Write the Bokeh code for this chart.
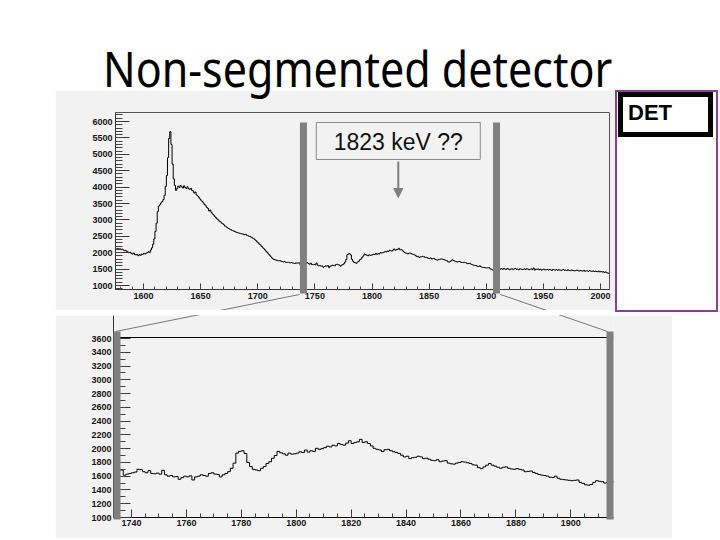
import numpy as np
from bokeh.plotting import figure
from bokeh.models import Range1d, Div, Spacer, Span, Arrow, NormalHead, FixedTicker
from bokeh.layouts import column, row
from bokeh.embed import file_html
from bokeh.resources import INLINE
from bokeh.core.properties import value

# ---------------------------------------------------------------- data
TITLE = "Non-segmented detector"
DET_LABEL = "DET"
NOTE_TEXT = "1823 keV ??"
NOTE_KEV = 1823

FIRST_BIN_KEV = 1576          # lower edge of the first 1-keV bin

# counts per 1 keV bin, 1576 .. 1735 keV
counts_low = [
    2110, 2130, 2100, 2120, 2090, 2110, 2080, 2060, 2070, 2040,
    2020, 2000, 2010, 1970, 1960, 1990, 1940, 1930, 1950, 1910,
    1940, 1920, 1960, 1950, 1980, 1960, 1990, 2000, 2030, 2010,
    2080, 2150, 2260, 2420, 2650, 2900, 3250, 3420, 3460, 3520,
    3560, 3620, 3750, 4020, 4350, 4900, 5480, 5690, 5300, 4700,
    4250, 4050, 3900, 3960, 4030, 3990, 4050, 4010, 3970, 4040,
    3990, 3960, 4010, 3950, 3930, 3960, 3900, 3880, 3820, 3850,
    3760, 3730, 3690, 3640, 3600, 3560, 3520, 3470, 3430, 3380,
    3350, 3270, 3300, 3230, 3180, 3150, 3100, 3070, 3030, 3000,
    2960, 2940, 2900, 2880, 2850, 2810, 2790, 2760, 2740, 2720,
    2700, 2680, 2670, 2650, 2640, 2620, 2610, 2600, 2590, 2580,
    2570, 2560, 2550, 2560, 2530, 2520, 2500, 2490, 2470, 2450,
    2430, 2400, 2370, 2330, 2300, 2260, 2230, 2190, 2150, 2120,
    2080, 2040, 2000, 1960, 1920, 1880, 1840, 1810, 1790, 1780,
    1770, 1760, 1750, 1760, 1740, 1730, 1720, 1730, 1710, 1700,
    1710, 1700, 1690, 1700, 1690, 1680, 1670, 1690, 1680, 1690,
]
# counts per 1 keV bin, 1736 .. 1912 keV (the zoomed window)
counts_zoom = [
    1690, 1615, 1630, 1640, 1650, 1660, 1700, 1695, 1665, 1650,
    1680, 1640, 1635, 1645, 1630, 1685, 1620, 1600, 1610, 1590,
    1595, 1555, 1580, 1600, 1590, 1605, 1545, 1590, 1600, 1620,
    1610, 1600, 1640, 1650, 1630, 1625, 1590, 1620, 1640, 1665,
    1715, 1790, 1935, 1960, 1970, 1930, 1800, 1740, 1700, 1690,
    1680, 1715, 1740, 1785, 1810, 1860, 1900, 1960, 1940, 1925,
    1905, 1935, 1920, 1925, 1935, 1955, 1945, 1980, 1950, 1970,
    1960, 2005, 1990, 2000, 2015, 2035, 2025, 2050, 2040, 2075,
    2060, 2050, 2080, 2115, 2075, 2090, 2100, 2135, 2090, 2100,
    2075, 2040, 2005, 1990, 1980, 1960, 1985, 1990, 1970, 1955,
    1945, 1930, 1905, 1880, 1890, 1855, 1870, 1875, 1890, 1880,
    1855, 1860, 1845, 1830, 1825, 1840, 1810, 1820, 1825, 1790,
    1780, 1775, 1790, 1800, 1810, 1805, 1795, 1785, 1765, 1760,
    1725, 1710, 1735, 1760, 1785, 1760, 1745, 1730, 1715, 1730,
    1735, 1715, 1705, 1700, 1710, 1700, 1690, 1665, 1670, 1675,
    1655, 1640, 1625, 1615, 1610, 1600, 1585, 1580, 1600, 1570,
    1555, 1550, 1545, 1540, 1535, 1540, 1545, 1510, 1495, 1475,
    1470, 1480, 1510, 1535, 1525, 1520, 1500,
]
# counts per 1 keV bin, 1913 .. 2007 keV
counts_high = [
    1510, 1495, 1520, 1500, 1490, 1515, 1505, 1480, 1500, 1510,
    1490, 1505, 1520, 1495, 1500, 1480, 1510, 1500, 1485, 1495,
    1505, 1490, 1510, 1500, 1480, 1495, 1505, 1485, 1530, 1470,
    1500, 1490, 1505, 1480, 1495, 1470, 1485, 1500, 1475, 1480,
    1490, 1470, 1485, 1480, 1460, 1490, 1475, 1470, 1485, 1465,
    1480, 1470, 1460, 1475, 1490, 1465, 1470, 1455, 1480, 1460,
    1450, 1470, 1465, 1455, 1445, 1460, 1470, 1450, 1440, 1455,
    1450, 1440, 1460, 1435, 1450, 1445, 1430, 1455, 1440, 1430,
    1445, 1425, 1440, 1430, 1420, 1440, 1415, 1430, 1410, 1420,
    1400, 1415, 1390, 1380, 1370,
]

ZOOM_RANGE = (1736, 1913)     # window shown in the lower panel (keV)
MARKER_KEV = [1740, 1909]     # grey window markers drawn on the upper panel

top_x_ticks = [1600, 1650, 1700, 1750, 1800, 1850, 1900, 1950, 2000]
top_y_ticks = [1000, 1500, 2000, 2500, 3000, 3500, 4000, 4500, 5000, 5500, 6000]
bot_x_ticks = [1740, 1760, 1780, 1800, 1820, 1840, 1860, 1880, 1900]
bot_y_ticks = [1000, 1200, 1400, 1600, 1800, 2000, 2200, 2400, 2600,
               2800, 3000, 3200, 3400, 3600]

# ---------------------------------------------------------------- style
BG = "#f2f2f2"
BAR = "#808080"
LINK = "#777777"
PURPLE = "#923a9c"

counts = np.array(counts_low + counts_zoom + counts_high, dtype=float)
edges = FIRST_BIN_KEV + np.arange(len(counts) + 1)
step_y = np.append(counts, counts[-1])


class Frame:
    """maps slide pixels <-> data for one plot frame"""
    def __init__(self, l, r, t, b, x0, x1, y0, y1):
        self.l, self.r, self.t, self.b = l, r, t, b
        self.x0, self.x1, self.y0, self.y1 = x0, x1, y0, y1

    def x(self, px):
        return self.x0 + (px - self.l) * (self.x1 - self.x0) / (self.r - self.l)

    def y(self, py):
        return self.y0 + (self.b - py) * (self.y1 - self.y0) / (self.b - self.t)

    def px(self, x):
        return self.l + (x - self.x0) * (self.r - self.l) / (self.x1 - self.x0)


# upper panel geometry (slide pixels)
TOP_PANEL = (55, 90, 560, 220)
kpp = (top_x_ticks[-1] - top_x_ticks[0]) / (600 - 143)
ypp = (top_y_ticks[-1] - top_y_ticks[0]) / (285 - 121)
top = Frame(115, 609, 112, 289,
            top_x_ticks[0] - (143 - 115) * kpp, top_x_ticks[0] + (609 - 143) * kpp,
            top_y_ticks[0] - (289 - 285) * ypp, top_y_ticks[-1] + (121 - 112) * ypp)

# lower panel geometry
BOT_PANEL = (55, 315, 617, 223)
PAD = 7
kpp_b = (ZOOM_RANGE[1] - ZOOM_RANGE[0]) / (613 - 113 - 2 * PAD)
ypp_b = (bot_y_ticks[-1] - bot_y_ticks[0]) / (517 - 338)
bot = Frame(113, 613, 315, 517,
            ZOOM_RANGE[0] - PAD * kpp_b, ZOOM_RANGE[1] + PAD * kpp_b,
            bot_y_ticks[0], bot_y_ticks[-1] + (338 - 315) * ypp_b)


def make_fig(panel, fr):
    left, ptop, w, h = panel
    p = figure(width=w, height=h,
               x_range=Range1d(fr.x0, fr.x1), y_range=Range1d(fr.y0, fr.y1),
               output_backend="svg", toolbar_location=None,
               min_border_left=fr.l - left, min_border_right=left + w - fr.r,
               min_border_top=fr.t - ptop, min_border_bottom=ptop + h - fr.b,
               background_fill_color=BG, border_fill_color=BG)
    p.grid.visible = False
    return p


def style_axis(ax, ticks, minor, t_in, m_in, standoff):
    ax.ticker = FixedTicker(ticks=ticks, minor_ticks=minor)
    ax.major_tick_in = t_in
    ax.major_tick_out = 0
    ax.minor_tick_in = m_in
    ax.minor_tick_out = 0
    ax.major_label_standoff = standoff
    ax.major_label_text_font = "Liberation Sans"
    ax.major_label_text_font_size = "9px"
    ax.major_label_text_font_style = "bold"
    ax.major_label_text_color = "#151515"
    ax.axis_line_color = "#333333"
    ax.major_tick_line_color = "#333333"
    ax.minor_tick_line_color = "#444444"


# connector lines (slide pixels) from the upper markers to the lower panel
L_TOP = (top.px(MARKER_KEV[0]) - 4, 294)
R_TOP = (top.px(MARKER_KEV[1]) + 4, 294)
L_BOT = (bot.px(ZOOM_RANGE[0]) - 5, 331)
R_BOT = (bot.px(ZOOM_RANGE[1]) + 1, 331)


def connectors(p, fr):
    p.segment(x0=[fr.x(L_TOP[0]), fr.x(R_TOP[0])], y0=[fr.y(L_TOP[1]), fr.y(R_TOP[1])],
              x1=[fr.x(L_BOT[0]), fr.x(R_BOT[0])], y1=[fr.y(L_BOT[1]), fr.y(R_BOT[1])],
              line_color=LINK, line_width=1, level="overlay")


# ---------------------------------------------------------------- upper panel
p1 = make_fig(TOP_PANEL, top)
p1.outline_line_color = "#555555"
style_axis(p1.xaxis[0], top_x_ticks, list(range(1580, 2008, 10)), 6, 3, 3)
style_axis(p1.yaxis[0], top_y_ticks, list(range(900, 6300, 100)), 14, 7, 3)
p1.step(edges, step_y, mode="after", line_color="black", line_width=1)
p1.rect(x=MARKER_KEV, y=(top.y(293) + top.y(122)) / 2, width=7, width_units="screen",
        height=top.y(122) - top.y(293), fill_color=BAR, line_color=None, level="overlay")
p1.rect(x=NOTE_KEV, y=top.y(140.5), width=164, height=37, width_units="screen",
        height_units="screen", fill_color=BG, line_color="#8a8a8a")
p1.text(x=[NOTE_KEV], y=[top.y(141)], text=[NOTE_TEXT], text_align="center",
        text_baseline="middle", text_font=value("Liberation Sans"),
        text_font_size="23px", text_color="#111111")
p1.add_layout(Arrow(x_start=NOTE_KEV, y_start=top.y(161), x_end=NOTE_KEV, y_end=top.y(197),
                    line_color="#7f7f7f", line_width=2,
                    end=NormalHead(size=9, fill_color="#7f7f7f", line_color="#7f7f7f")))
connectors(p1, top)

# ---------------------------------------------------------------- lower panel
p2 = make_fig(BOT_PANEL, bot)
p2.outline_line_color = None
style_axis(p2.xaxis[0], bot_x_ticks, list(range(1735, 1916, 5)), 8, 4, 2)
style_axis(p2.yaxis[0], bot_y_ticks, list(range(1100, 3600, 100)), 17, 12, 2)
p2.xaxis[0].axis_line_color = "black"
p2.add_layout(Span(location=bot.y(337), dimension="width", line_color="black", line_width=1))
p2.step(edges, step_y, mode="after", line_color="black", line_width=1)
p2.quad(left=[bot.x0, ZOOM_RANGE[1]], right=[ZOOM_RANGE[0], bot.x1],
        bottom=bot.y(519), top=bot.y(331), fill_color=BAR, line_color=None, level="overlay")
connectors(p2, bot)

# ---------------------------------------------------------------- slide text
title_div = Div(width=718, height=90, margin=0,
                styles={"z-index": "5", "overflow": "visible"},
                text=(
    '<div style="position:relative;width:718px;height:90px;overflow:visible;">'
    '<span style="position:absolute;left:103px;top:43px;font-family:\'Noto Sans\';'
    'font-size:43px;line-height:43px;color:#000;white-space:nowrap;z-index:5;'
    'transform:scaleY(1.16);transform-origin:0 0;">'
    + TITLE + '</span></div>'))

det_div = Div(width=103, height=222, margin=0, text=(
    '<div style="box-sizing:border-box;width:103px;height:222px;border:2px solid ' + PURPLE + ';'
    'background:#fff;padding-left:1px;">'
    '<div style="box-sizing:border-box;width:95px;height:45px;border:5px solid #000;'
    'background:#fff;padding-left:5px;font-family:\'Liberation Sans\';font-weight:bold;'
    'font-size:22px;line-height:32px;color:#000;">' + DET_LABEL + '</div></div>'))

layout = column(
    title_div,
    row(Spacer(width=55, height=222), p1, det_div),
    Spacer(width=10, height=3),
    row(Spacer(width=55, height=223), p2),
)

open("out.html", "w").write(file_html(layout, INLINE, TITLE))
